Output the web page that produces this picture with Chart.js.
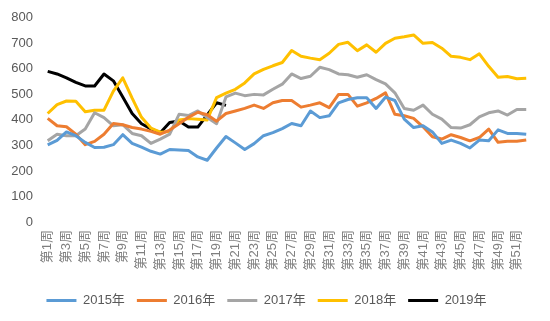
<!DOCTYPE html>
<html>
<head>
<meta charset="utf-8">
<script src="https://cdn.jsdelivr.net/npm/chart.js@4/dist/chart.umd.min.js"></script>
<style>
  html, body { margin: 0; padding: 0; background: #fff; }
  #wrap { width: 550px; height: 321px; position: relative; }
</style>
</head>
<body>
<div id="wrap"><canvas id="chart"></canvas></div>
<script>
// weeks (categories)
const weeks = ['第1周','第2周','第3周','第4周','第5周','第6周','第7周','第8周','第9周','第10周',
  '第11周','第12周','第13周','第14周','第15周','第16周','第17周','第18周','第19周','第20周',
  '第21周','第22周','第23周','第24周','第25周','第26周','第27周','第28周','第29周','第30周',
  '第31周','第32周','第33周','第34周','第35周','第36周','第37周','第38周','第39周','第40周',
  '第41周','第42周','第43周','第44周','第45周','第46周','第47周','第48周','第49周','第50周',
  '第51周','第52周'];

const y2015 = [302, 320, 353, 338, 312, 292, 293, 303, 342, 308,
  293, 277, 266, 284, 282, 280, 255, 242, 290, 335,
  310, 284, 307, 338, 350, 366, 386, 377, 435, 409,
  416, 467, 480, 487, 487, 445, 489, 476, 403, 370,
  377, 353, 308, 321, 308, 290, 321, 318, 361, 347,
  347, 344];
const y2016 = [406, 377, 373, 344, 303, 316, 344, 386, 381, 370,
  364, 355, 344, 360, 385, 410, 430, 420, 395, 425,
  435, 445, 458, 445, 467, 476, 476, 450, 458, 467,
  448, 500, 500, 454, 467, 484, 506, 422, 416, 406,
  373, 334, 325, 342, 331, 318, 331, 364, 312, 316,
  316, 321];
const y2017 = [318, 344, 338, 338, 364, 428, 409, 377, 381, 347,
  338, 308, 325, 344, 422, 417, 435, 409, 385, 490,
  505, 495, 500, 498, 520, 540, 580, 562, 571, 606,
  597, 580, 577, 567, 577, 558, 541, 506, 445, 438,
  458, 422, 403, 370, 368, 381, 412, 428, 435, 419,
  441, 441];
const y2018 = [425, 460, 474, 473, 432, 438, 438, 513, 565, 485,
  410, 368, 352, 355, 400, 405, 403, 400, 487, 505,
  520, 545, 580, 598, 612, 625, 672, 649, 642, 636,
  661, 696, 704, 671, 694, 665, 700, 720, 726, 733,
  700, 703, 681, 649, 645, 636, 659, 610, 567, 570,
  561, 563];
const y2019 = [590, 580, 565, 547, 533, 533, 580, 553, 490, 425,
  385, 365, 350, 390, 396, 372, 372, 420, 467, 457];

const seriesNames = ['2015年', '2016年', '2017年', '2018年', '2019年'];
const seriesColors = ['#5B9BD5', '#ED7D31', '#A5A5A5', '#FFC000', '#000000'];
const seriesData = [y2015, y2016, y2017, y2018, y2019];

const fontFamily = "'Liberation Sans', 'Noto Sans CJK SC', sans-serif";
const textColor = '#595959';

const ctx = document.getElementById('chart').getContext('2d');
new Chart(ctx, {
  type: 'line',
  data: {
    labels: weeks,
    datasets: seriesData.map((d, i) => ({
      label: seriesNames[i],
      data: d,
      borderColor: seriesColors[i],
      backgroundColor: seriesColors[i],
      borderWidth: 3,
      pointRadius: 0,
      tension: 0,
      fill: false,
      borderJoinStyle: 'round',
    })),
  },
  options: {
    responsive: true,
    maintainAspectRatio: false,
    animation: false,
    layout: { padding: { top: 15, right: 17, bottom: 4, left: 0 } },
    plugins: {
      tooltip: { enabled: false },
      legend: {
        position: 'bottom',
        labels: {
          usePointStyle: true,
          pointStyle: 'line',
          pointStyleWidth: 30,
          color: textColor,
          padding: 12,
          font: { family: fontFamily, size: 13 },
        },
      },
    },
    scales: {
      x: {
        offset: true,
        grid: { display: false, drawTicks: false },
        border: { display: false },
        ticks: {
          autoSkip: false,
          maxRotation: 90,
          minRotation: 90,
          padding: 8,
          color: '#7f7f7f',
          font: { family: fontFamily, size: 13 },
          callback: function (value, index) {
            return index % 2 === 0 ? this.getLabelForValue(value) : '';
          },
        },
        afterFit: (scale) => { scale.height = 60; },
      },
      y: {
        min: 0,
        max: 800,
        grid: { display: false, drawTicks: false },
        border: { display: false },
        ticks: {
          stepSize: 100,
          padding: 10,
          color: textColor,
          font: { family: fontFamily, size: 13 },
        },
        afterFit: (scale) => { scale.width = 43; },
      },
    },
  },
});
</script>
</body>
</html>
